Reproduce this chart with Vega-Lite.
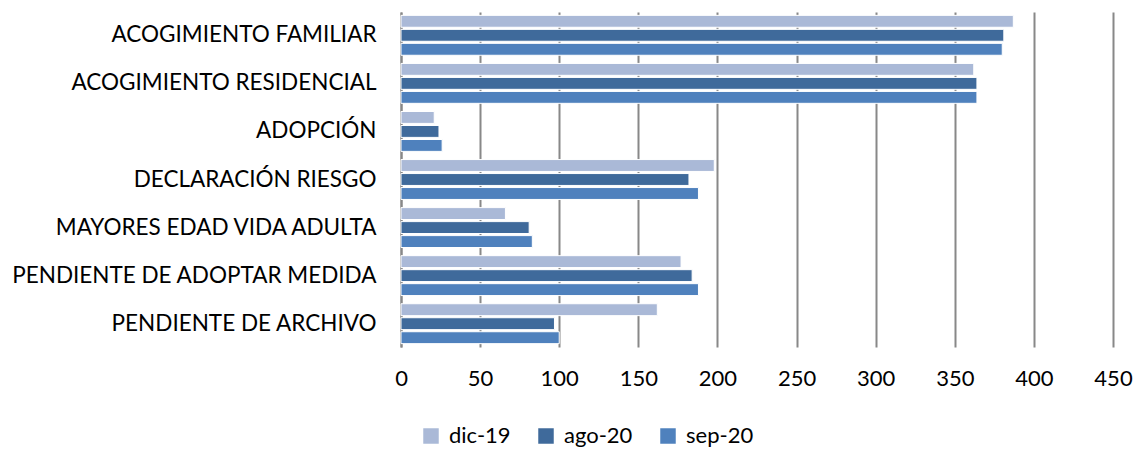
{
  "$schema": "https://vega.github.io/schema/vega-lite/v6.json",
  "width": 712,
  "height": 335,
  "padding": {"left": 10, "top": 12, "right": 10, "bottom": 5},
  "config": {"view": {"stroke": null}, "font": "Lato"},
  "data": {"values": [
    {"cat": "ACOGIMIENTO FAMILIAR", "serie": "dic-19", "v": 387},
    {"cat": "ACOGIMIENTO FAMILIAR", "serie": "ago-20", "v": 381},
    {"cat": "ACOGIMIENTO FAMILIAR", "serie": "sep-20", "v": 380},
    {"cat": "ACOGIMIENTO RESIDENCIAL", "serie": "dic-19", "v": 362},
    {"cat": "ACOGIMIENTO RESIDENCIAL", "serie": "ago-20", "v": 364},
    {"cat": "ACOGIMIENTO RESIDENCIAL", "serie": "sep-20", "v": 364},
    {"cat": "ADOPCIÓN", "serie": "dic-19", "v": 21},
    {"cat": "ADOPCIÓN", "serie": "ago-20", "v": 24},
    {"cat": "ADOPCIÓN", "serie": "sep-20", "v": 26},
    {"cat": "DECLARACIÓN RIESGO", "serie": "dic-19", "v": 198},
    {"cat": "DECLARACIÓN RIESGO", "serie": "ago-20", "v": 182},
    {"cat": "DECLARACIÓN RIESGO", "serie": "sep-20", "v": 188},
    {"cat": "MAYORES EDAD VIDA ADULTA", "serie": "dic-19", "v": 66},
    {"cat": "MAYORES EDAD VIDA ADULTA", "serie": "ago-20", "v": 81},
    {"cat": "MAYORES EDAD VIDA ADULTA", "serie": "sep-20", "v": 83},
    {"cat": "PENDIENTE DE ADOPTAR MEDIDA", "serie": "dic-19", "v": 177},
    {"cat": "PENDIENTE DE ADOPTAR MEDIDA", "serie": "ago-20", "v": 184},
    {"cat": "PENDIENTE DE ADOPTAR MEDIDA", "serie": "sep-20", "v": 188},
    {"cat": "PENDIENTE DE ARCHIVO", "serie": "dic-19", "v": 162},
    {"cat": "PENDIENTE DE ARCHIVO", "serie": "ago-20", "v": 97},
    {"cat": "PENDIENTE DE ARCHIVO", "serie": "sep-20", "v": 100}
  ]},
  "mark": {"type": "bar", "stroke": "white", "strokeWidth": 1},
  "encoding": {
    "y": {
      "field": "cat", "type": "nominal", "sort": null, "title": null,
      "scale": {"paddingInner": 0.17, "paddingOuter": 0.07},
      "axis": {"labelFontSize": 22.5, "labelColor": "#000000", "labelPadding": 25, "ticks": false,
               "domain": true, "domainColor": "#888888", "domainWidth": 2, "labelLimit": 500}
    },
    "yOffset": {"field": "serie", "sort": ["dic-19", "ago-20", "sep-20"], "scale": {"paddingInner": 0.15}},
    "x": {
      "field": "v", "type": "quantitative", "title": null,
      "scale": {"domain": [0, 450], "nice": false},
      "axis": {"values": [0, 50, 100, 150, 200, 250, 300, 350, 400, 450], "labelFontSize": 22, "labelColor": "#000000",
               "labelPadding": 21, "labelFlush": false, "labelOverlap": false, "ticks": false, "domain": false,
               "grid": true, "gridColor": "#888888", "gridWidth": 2}
    },
    "color": {
      "field": "serie", "type": "nominal", "title": null,
      "sort": ["dic-19", "ago-20", "sep-20"],
      "scale": {"domain": ["dic-19", "ago-20", "sep-20"], "range": ["#AAB9D7", "#3F6A9B", "#4F81BD"]},
      "legend": {"orient": "none", "legendX": 19, "legendY": 413, "direction": "horizontal", "symbolType": "square", "symbolSize": 240,
                 "symbolStrokeWidth": 0, "labelFontSize": 22, "labelColor": "#000000", "labelOffset": 7, "columnPadding": 24}
    }
  }
}
